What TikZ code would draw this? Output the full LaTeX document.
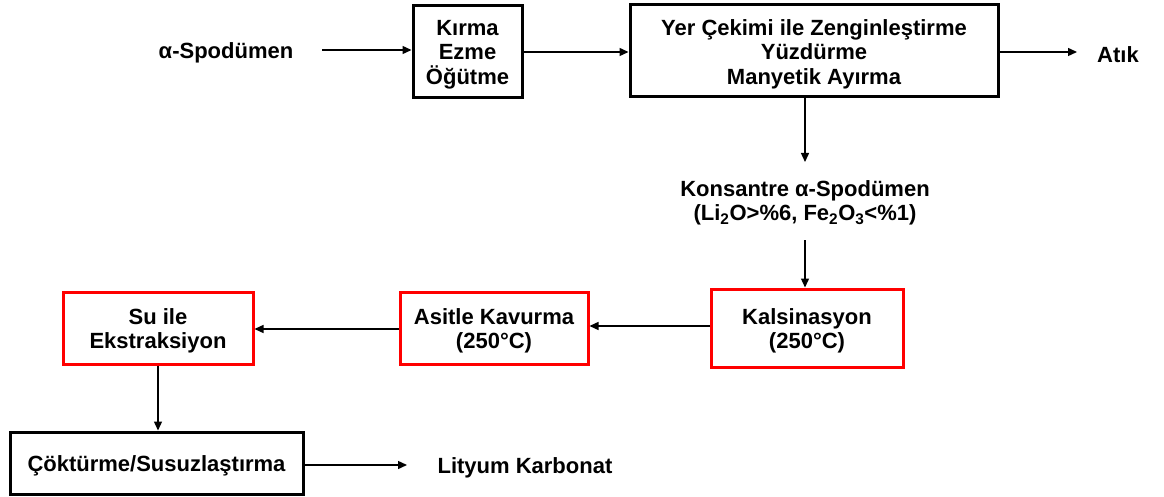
\documentclass[tikz,border=0pt]{standalone}
\usepackage{fontspec}
\setmainfont{Liberation Sans}
\usetikzlibrary{arrows.meta,calc}
\begin{document}
\begin{tikzpicture}[x=1pt,y=-1pt,
  every node/.style={font=\fontsize{22}{24.5}\selectfont\bfseries, align=center, inner sep=0pt},
  blackbox/.style={draw=black, line width=3pt},
  redbox/.style={draw=red, line width=3pt},
  txt/.style={yshift=-3pt},
  arr/.style={line width=1.4pt, -{Triangle[length=9pt,width=8pt]}}]
\useasboundingbox (0,0) rectangle (1164,497);
% boxes
\node[blackbox, minimum width=109pt, minimum height=92pt] (kirma) at (467.5,51.5) {};
\node[blackbox, minimum width=368pt, minimum height=92pt] (yer) at (814,51) {};
\node[redbox, minimum width=192pt, minimum height=78pt] (kals) at (807,328) {};
\node[redbox, minimum width=188pt, minimum height=72pt] (asit) at (494,328) {};
\node[redbox, minimum width=190pt, minimum height=72pt] (su) at (158,328) {};
\node[blackbox, minimum width=293pt, minimum height=62pt] (cok) at (156.5,463) {};
% texts
\node[txt] (alpha) at (226,50) {α-Spodümen};
\node[txt] (kirmat) at (kirma.center) {Kırma\\Ezme\\Öğütme};
\node[txt] (yert) at (yer.center) {Yer Çekimi ile Zenginleştirme\\Yüzdürme\\Manyetik Ayırma};
\node[txt] (atik) at (1118,52) {Atık};
\node[txt] (kons) at (805,200) {Konsantre α-Spodümen\\(Li\textsubscript{2}O>\%6, Fe\textsubscript{2}O\textsubscript{3}<\%1)};
\node[txt] (kalst) at (kals.center) {Kalsinasyon\\(250°C)};
\node[txt] (asitt) at (asit.center) {Asitle Kavurma\\(250°C)};
\node[txt] (sut) at (su.center) {Su ile\\Ekstraksiyon};
\node[txt] (cokt) at (cok.center) {Çöktürme/Susuzlaştırma};
\node[txt] (lit) at (525,465) {Lityum Karbonat};
% free-end coordinates
\coordinate (a0) at (322,50);
\coordinate (atikend) at (1077,52);
\coordinate (yerdown) at (805,97);
\coordinate (konsend) at (805,162);
\coordinate (konsstart) at (805,240);
\coordinate (litend) at (407,465);
% connectors
\draw[arr] (a0) -- (a0 -| kirma.west);
\draw[arr] (kirma.east |- 0,52) -- (yer.west |- 0,52);
\draw[arr] (yer.east |- atikend) -- (atikend);
\draw[arr] (yerdown) -- (konsend);
\draw[arr] (konsstart) -- (konsstart |- kals.north);
\draw[arr] (kals.west |- 0,326) -- (asit.east |- 0,326);
\draw[arr] (asit.west |- 0,329) -- (su.east |- 0,329);
\draw[arr] (su.south) -- (su.south |- cok.north);
\draw[arr] (cok.east |- litend) -- (litend);
\end{tikzpicture}
\end{document}
